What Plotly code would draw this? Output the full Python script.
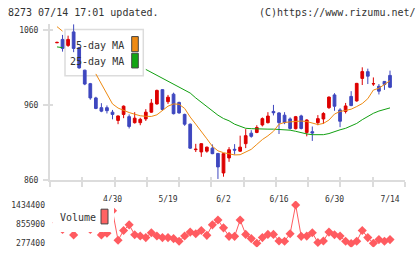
import plotly.graph_objects as go

W, H = 420, 259

# ---------------- data ----------------
dates = ["4/15", "4/16", "4/17", "4/20", "4/21", "4/22", "4/23", "4/24", "4/27", "4/28", "4/30",
         "5/1", "5/7", "5/8", "5/11", "5/12", "5/13", "5/14", "5/15", "5/18", "5/19",
         "5/20", "5/21", "5/22", "5/25", "5/26", "5/27", "5/28", "5/29", "6/1", "6/2",
         "6/3", "6/4", "6/5", "6/8", "6/9", "6/10", "6/11", "6/12", "6/15", "6/16",
         "6/17", "6/18", "6/19", "6/22", "6/23", "6/24", "6/25", "6/26", "6/29", "6/30",
         "7/1", "7/2", "7/3", "7/6", "7/7", "7/8", "7/9", "7/10", "7/13", "7/14"]
tick_labels = ["4/30", "5/19", "6/2", "6/16", "6/30", "7/14"]

opens = [1043.5, 1048, 1040, 1058, 1037, 1007, 989, 970, 957, 957,
         951, 940, 948, 945, 937, 937, 942, 951, 962, 981,
         965, 975, 964, 948, 935, 901, 898, 899, 903, 896,
         870, 890, 901.5, 899, 909, 923, 924, 934, 937, 952,
         950, 947, 942, 929, 946, 924, 925, 937, 942, 957,
         974, 954, 952, 972, 966, 996, 1005, 988.6, 985.5, 992,
         1000]
highs = [1045, 1054, 1053, 1068, 1038, 1007.5, 990, 971.5, 963, 960,
         954, 946.5, 960, 948, 951, 943.5, 955, 968.5, 981, 981.5,
         974, 977, 965, 949, 936, 908.8, 909.5, 905, 908, 896.5,
         896.5, 904.4, 908.4, 919.7, 928.4, 927, 933.6, 944, 951, 960.7,
         951, 951, 944, 946, 947.6, 941.5, 931.9, 947.1, 951, 972,
         976.3, 956.3, 963.3, 979, 990, 1010.8, 1009, 997.3, 988.5, 992.5,
         1006.4]
lows = [1043, 1031.7, 1038, 1031, 1009, 987, 967.6, 955, 951, 949.3,
        941.5, 935, 943, 929.3, 935.8, 933.6, 939.3, 950.2, 961, 953,
        962, 948, 949, 932.8, 902, 897.9, 891.4, 897, 895, 862,
        865, 884.8, 894.4, 898, 903.1, 917, 923, 932, 936, 946.7,
        921.9, 935, 928, 928, 928, 918.8, 912.7, 933.6, 935.4, 955.4,
        952.8, 931, 949.3, 959, 965, 987.2, 988.5, 986, 974.6, 980.7,
        983]
closes = [1044, 1036, 1048, 1036, 1010, 988.5, 970, 956, 952.4, 953,
          948, 946, 959, 932, 943, 941.5, 951, 963, 980, 954.6,
          971, 949, 950, 935, 903, 901.6, 909, 904.4, 895.7, 878,
          895.7, 901, 900.5, 904.4, 919.7, 918.8, 930.6, 942.4, 945.8, 950.2,
          937.1, 937.1, 929.3, 945, 929.3, 940.6, 923.2, 942.4, 949.3, 971.1,
          958.9, 938.9, 959.3, 959.8, 989.4, 1005.1, 999, 989, 979, 988,
          984.2]

# moving averages (None where hidden by the legend box)
ma5 = [1065, 1059, None, None, None, None, None, 1002, 988, 975,
       962, 956.5, 953, 950.5, 948.3, 946.2, 945.5, 945.3, 947.5, 953,
       959, 962, 961.5, 956, 944.5, 935, 924.5, 915.5, 905.5, 899.5,
       897, 895, 894, 894.3, 897.5, 901.5, 908, 914.5, 919.5, 925.5,
       935, 937.3, 938, 938.6, 939.2, 938.5, 936.5, 934.5, 936, 940.5,
       948.5, 952, 953.3, 955, 958.5, 962.5, 969, 980.5, 982.9, 987.7,
       993]
ma25 = [1038, 1037, None, None, None, None, None, None, None, None,
        None, None, None, None, None, None, 1008, 1004, 1001, 996.5,
        993, 988.5, 984, 980, 976.5, 970, 964, 958, 952, 947,
        942.5, 939.5, 935, 932, 929.5, 929, 928.5, 928.4, 928.4, 928.4,
        928.2, 927.8, 927, 925.5, 923.5, 922, 921, 921, 921, 922.5,
        925.5, 927.5, 929.5, 932.5, 936, 941, 945.5, 949.5, 952.5, 955,
        956.7]

volume = [900000, 698000, 950000, 536000, 900000, 950000, 698000, 900000, 536000, 586000,
          1260000, 375000, 669000, 837000, 542000, 501000, 454000, 601000, 501000, 454000,
          454000, 425000, 345000, 501000, 619000, 572000, 669000, 522000, 837000, 984000,
          748000, 492000, 492000, 984000, 551000, 425000, 285000, 454000, 551000, 551000,
          354000, 345000, 572000, 1434400, 492000, 500000, 601000, 307000, 354000, 619000,
          542000, 500000, 345000, 277400, 345000, 669000, 454000, 285000, 395000, 345000,
          395000]
vol_ticks = [277400, 855900, 1434400]
price_ticks = [860, 960, 1060]

# ---------------- styling ----------------
RED = "#dd0000"
BLUE = "#3e47bf"
ORANGE = "#ee8a12"
GREEN = "#11a011"
VOLC = "#ff5b60"
AXC = "#dcdcdc"
TXT = "#333333"
MONO = "DejaVu Sans Mono"

def pxx(x):
    return x / W

def pxy(y):
    return 1 - y / H

idx = list(range(len(dates)))
tickvals = [dates.index(d) for d in tick_labels]

fig = go.Figure()

fig.add_trace(go.Scatter(x=idx, y=ma25, mode="lines", line=dict(color=GREEN, width=1),
                         connectgaps=False, hoverinfo="skip", showlegend=False))
fig.add_trace(go.Scatter(x=idx, y=ma5, mode="lines", line=dict(color=ORANGE, width=1),
                         connectgaps=False, hoverinfo="skip", showlegend=False))
fig.add_trace(go.Candlestick(
    x=idx, open=opens, high=highs, low=lows, close=closes,
    increasing=dict(line=dict(color=RED, width=1), fillcolor=RED),
    decreasing=dict(line=dict(color=BLUE, width=1), fillcolor=BLUE),
    whiskerwidth=0, showlegend=False, hoverinfo="skip"))

fig.add_trace(go.Scatter(x=idx, y=volume, mode="lines+markers", xaxis="x2", yaxis="y2",
                         line=dict(color=VOLC, width=1),
                         marker=dict(symbol="diamond", size=7, color=VOLC),
                         hoverinfo="skip", showlegend=False))
# helper (empty) traces so the tick-only overlay axes are drawn
fig.add_trace(go.Scatter(x=[None], y=[None], xaxis="x3", yaxis="y", showlegend=False, hoverinfo="skip"))
fig.add_trace(go.Scatter(x=[None], y=[None], xaxis="x4", yaxis="y", showlegend=False, hoverinfo="skip"))
fig.add_trace(go.Scatter(x=[None], y=[None], xaxis="x", yaxis="y3", showlegend=False, hoverinfo="skip"))

xr = [-1.26, 62.7]
main_dom = [pxy(184), pxy(24)]
yr = [860, 1060 + (31 - 24) / 0.765]
vol_dom = [pxy(252), pxy(205)]
vscale = (1434400 - 277400) / (248.3 - 209)
vr = [277400 - (252 - 248.3) * vscale, 1434400 + (209 - 205) * vscale]

n_grid = 11
fig.update_layout(
    width=W, height=H, margin=dict(l=0, r=0, t=0, b=0),
    paper_bgcolor="white", plot_bgcolor="white",
    showlegend=False,
    xaxis=dict(domain=[pxx(50), pxx(405)], range=xr, anchor="y",
               tickvals=tickvals, ticktext=tick_labels, ticks="", showgrid=False,
               zeroline=False, showline=False, rangeslider=dict(visible=False),
               tickfont=dict(family=MONO, size=8, color=TXT), ticklabelstandoff=13),
    xaxis3=dict(overlaying="x", anchor="y", range=[0, n_grid], tickvals=list(range(n_grid + 1)),
                showticklabels=False, ticks="outside", ticklen=5, tickwidth=2, tickcolor=AXC,
                showline=True, linecolor=AXC, linewidth=2, showgrid=False, zeroline=False),
    xaxis4=dict(overlaying="x", anchor="y", range=[0, n_grid], tickvals=list(range(n_grid + 1)),
                showticklabels=False, ticks="inside", ticklen=3, tickwidth=2, tickcolor=AXC,
                showline=False, showgrid=False, zeroline=False),
    yaxis=dict(domain=main_dom, range=yr, anchor="x", tickvals=price_ticks,
               ticktext=[str(v) for v in price_ticks],
               ticks="outside", ticklen=5, tickwidth=2, tickcolor=AXC,
               showline=True, linecolor=AXC, linewidth=2, showgrid=False, zeroline=False,
               tickfont=dict(family=MONO, size=8, color=TXT), ticklabelstandoff=3),
    yaxis3=dict(overlaying="y", anchor="x", range=yr, tickvals=price_ticks, side="left",
                showticklabels=False, ticks="inside", ticklen=3, tickwidth=2, tickcolor=AXC,
                showline=False, showgrid=False, zeroline=False),
    xaxis2=dict(domain=[pxx(50), pxx(405)], range=xr, anchor="y2", showticklabels=False,
                ticks="", showgrid=False, zeroline=False, showline=False),
    yaxis2=dict(domain=vol_dom, range=vr, anchor="x2", tickvals=vol_ticks,
                ticktext=[str(v) for v in vol_ticks], ticks="", showgrid=False,
                zeroline=False, showline=False,
                tickfont=dict(family=MONO, size=8, color=TXT), ticklabelstandoff=4),
)

shapes = []
annotations = []
# price legend box (under the candles)
shapes.append(dict(type="rect", xref="paper", yref="paper", x0=pxx(65), x1=pxx(143.3),
                   y0=pxy(77.3), y1=pxy(30), fillcolor="white",
                   line=dict(color=AXC, width=1.5), layer="below"))
shapes.append(dict(type="rect", xref="paper", yref="paper", x0=pxx(131.7), x1=pxx(138.3),
                   y0=pxy(52.7), y1=pxy(37.3), fillcolor=ORANGE, line=dict(color="#444", width=1)))
shapes.append(dict(type="rect", xref="paper", yref="paper", x0=pxx(131.7), x1=pxx(138.3),
                   y0=pxy(69.3), y1=pxy(54.3), fillcolor="#12a512", line=dict(color="#444", width=1)))
# volume legend box (opaque, borderless) over the volume line
shapes.append(dict(type="rect", xref="paper", yref="paper", x0=pxx(53), x1=pxx(114),
                   y0=pxy(236.5), y1=pxy(205), fillcolor="white",
                   line=dict(width=0), layer="above"))
shapes.append(dict(type="rect", xref="paper", yref="paper", x0=pxx(101), x1=pxx(108),
                   y0=pxy(228.3), y1=pxy(213.3), fillcolor="#ff6262", line=dict(color="#444", width=1)))

def note(text, x, y, anchor):
    annotations.append(dict(text=text, xref="paper", yref="paper", x=pxx(x), y=pxy(y),
                            xanchor=anchor, yanchor="middle", showarrow=False,
                            font=dict(family=MONO, size=10, color=TXT)))

note("5-day MA", 125.5, 46, "right")
note("25-day MA", 125.5, 63, "right")
note("Volume", 58, 221.7, "left")
note("8273 07/14 17:01 updated.", 6, 12.5, "left")
note("(C)https://www.rizumu.net/", 418, 12.5, "right")

fig.update_layout(shapes=shapes, annotations=annotations)

fig.write_html("out.html")
